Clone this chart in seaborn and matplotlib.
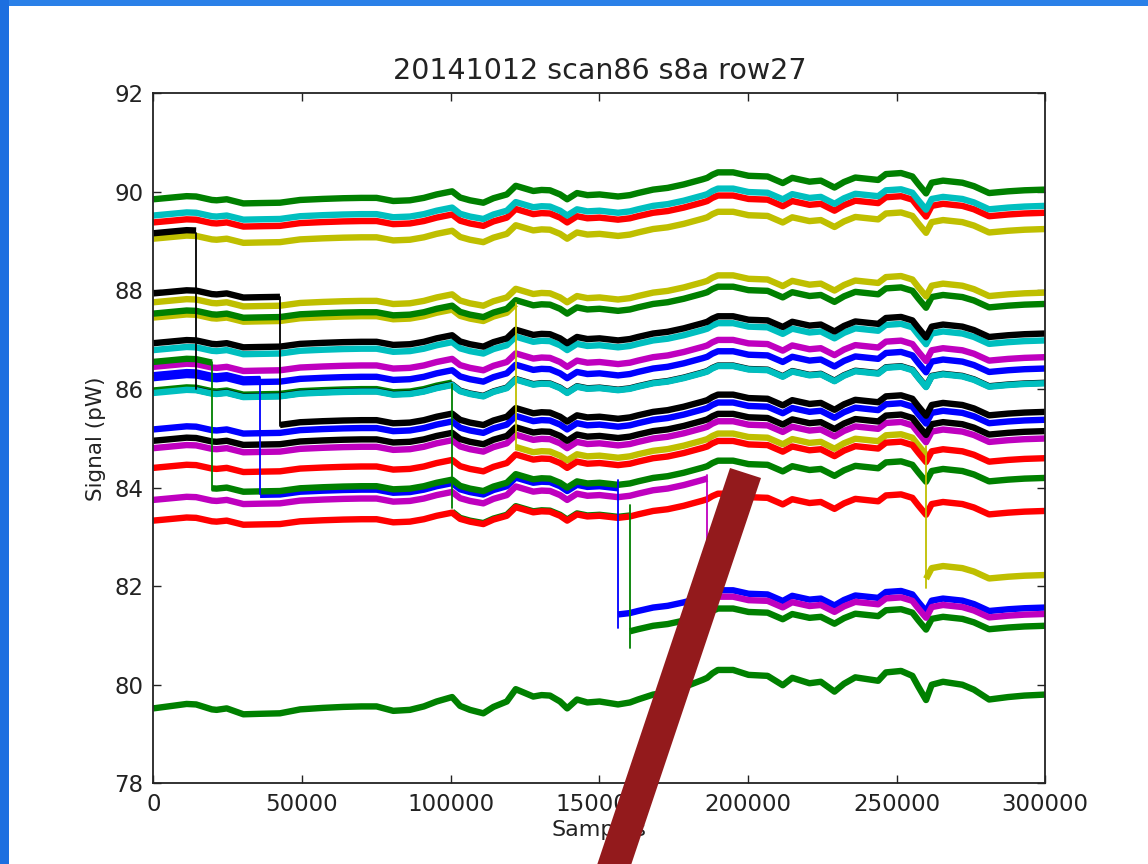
import numpy as np
import pandas as pd
import matplotlib
matplotlib.use("Agg")
import matplotlib.pyplot as plt
import seaborn as sns
from matplotlib.patches import Polygon, Rectangle

PROFILE_X = [0, 5000, 11200, 14400, 16000, 19700, 21300, 24700, 30300, 35900,
             42600, 49400, 57000, 63900, 70000, 75100, 80700, 86300, 91000, 95300,
             100500, 103200, 106500, 111000, 114400, 118900, 121900, 127800, 130600, 133400,
             136800, 139200, 142500, 146000, 150100, 156300, 160300, 163000, 168100, 173000,
             178400, 184800, 186300, 188000, 189900, 195000, 200200, 206600, 211700, 214900,
             220700, 224500, 229100, 232300, 236100, 243800, 246400, 251500, 255300, 257300,
             259900, 261800, 265600, 272100, 276000, 281100, 287500, 293000, 300000]
PROFILE_V = [79.52, 79.56, 79.61, 79.60, 79.57, 79.50, 79.49, 79.52, 79.40, 79.41,
             79.42, 79.50, 79.53, 79.55, 79.56, 79.56, 79.47, 79.49, 79.56, 79.66,
             79.75, 79.57, 79.49, 79.42, 79.55, 79.66, 79.91, 79.76, 79.79, 79.78,
             79.66, 79.52, 79.70, 79.64, 79.66, 79.60, 79.64, 79.70, 79.80, 79.85,
             79.95, 80.10, 80.14, 80.23, 80.30, 80.30, 80.20, 80.18, 79.99, 80.14,
             80.03, 80.06, 79.86, 80.02, 80.15, 80.08, 80.25, 80.28, 80.18, 79.96,
             79.69, 80.00, 80.06, 80.00, 79.90, 79.70, 79.75, 79.78, 79.80]
PROFILE_BASE = 79.52

# ---- channels (draw order): colour, drift gain, segments (x_start, x_end, level) ----
CH_COLOR = ["y", "y", "b", "b", "m", "g", "g", "k", "c", "m",
            "r", "r", "m", "k", "b", "c", "k", "g", "y", "k",
            "r", "c", "g", "g"]
CH_GAIN = [0.7] * 23 + [1.0]
CH_SEGMENTS = [
    [(0, 300000, 89.05)],
    [(0, 121900, 87.45), (121900, 259900, 84.55), (259900, 300000, 82.03)],
    [(0, 35900, 86.28), (35900, 156300, 83.93), (156300, 300000, 81.37)],
    [(0, 300000, 86.22)],
    [(0, 300000, 86.45)],
    [(0, 19700, 86.55), (19700, 300000, 84.0)],
    [(0, 100500, 85.97), (100500, 160300, 83.35), (160300, 300000, 81.0)],
    [(0, 14400, 89.16), (14400, 300000, 85.93)],
    [(0, 300000, 85.92)],
    [(0, 186300, 83.75), (186300, 300000, 81.24)],
    [(0, 300000, 83.33)],
    [(0, 300000, 84.40)],
    [(0, 300000, 84.80)],
    [(0, 300000, 84.95)],
    [(0, 300000, 85.18)],
    [(0, 300000, 86.79)],
    [(0, 300000, 86.93)],
    [(0, 300000, 87.53)],
    [(0, 300000, 87.76)],
    [(0, 42600, 87.94), (42600, 300000, 85.34)],
    [(0, 300000, 89.38)],
    [(0, 300000, 89.52)],
    [(0, 300000, 89.85)],
    [(0, 300000, 79.52)],
]

# ---- single-sample jumps: colour, sample, from, to ----
JUMP_COLOR = ["k", "g", "b", "k", "g", "y", "b", "g", "m", "y"]
JUMP_X = [14400, 19700, 35900, 42600, 100500, 121900, 156300, 160300, 186300, 259900]
JUMP_FROM = [89.16, 86.55, 86.25, 87.87, 86.10, 87.75, 84.15, 83.65, 84.25, 84.85]
JUMP_TO = [86.00, 83.95, 83.88, 85.25, 83.58, 84.80, 81.15, 80.75, 81.70, 81.96]

TITLE = "20141012 scan86 s8a row27"
XLABEL = "Samples"
YLABEL = "Signal (pW)"
XTICKS = [0, 50000, 100000, 150000, 200000, 250000, 300000]
YTICKS = [78, 80, 82, 84, 86, 88, 90, 92]

COLORS = {"b": "#0000ff", "g": "#008000", "r": "#ff0000", "c": "#00bfbf",
          "m": "#bf00bf", "y": "#bfbf00", "k": "#000000"}

sns.set_style("ticks")
plt.rcParams["font.family"] = ["DejaVu Sans"]

W, H = 1148, 864
fig = plt.figure(figsize=(W / 100, H / 100), dpi=100)
fig.patch.set_facecolor("white")

# slide border
fig.add_artist(Rectangle((0, 1 - 6 / H), 1, 6 / H, transform=fig.transFigure,
                         facecolor="#2a80e8", edgecolor="none", zorder=-5))
fig.add_artist(Rectangle((0, 0), 9 / W, 1, transform=fig.transFigure,
                         facecolor="#1c6fe0", edgecolor="none", zorder=-5))

ax = fig.add_axes([153.3 / W, 1 - 783.3 / H, (1045.3 - 153.3) / W, (783.3 - 93.3) / H])
ax.set_facecolor("white")

px = np.array(PROFILE_X, dtype=float)
pv = np.array(PROFILE_V, dtype=float)

for col, gain, segs in zip(CH_COLOR, CH_GAIN, CH_SEGMENTS):
    for x0, x1, level in segs:
        m = (px >= x0) & (px <= x1)
        df = pd.DataFrame({"sample": px[m], "signal": level + gain * (pv[m] - PROFILE_BASE)})
        sns.lineplot(data=df, x="sample", y="signal", color=COLORS[col], lw=4.6,
                     estimator=None, sort=False, ax=ax, solid_capstyle="butt")

for col, x, y0, y1 in zip(JUMP_COLOR, JUMP_X, JUMP_FROM, JUMP_TO):
    df = pd.DataFrame({"sample": [x, x], "signal": [y0, y1]})
    sns.lineplot(data=df, x="sample", y="signal", color=COLORS[col], lw=1.3,
                 estimator=None, sort=False, ax=ax, zorder=5)

ax.set_xlim(0, 300000)
ax.set_ylim(78, 92)
ax.set_xticks(XTICKS)
ax.set_yticks(YTICKS)
ax.set_xticklabels([str(t) for t in XTICKS])
ax.set_yticklabels([str(t) for t in YTICKS])
ax.tick_params(direction="in", top=True, right=True, length=6, width=1,
               labelsize=16.5, pad=7, colors="#222222", labelcolor="#222222")
for s in ax.spines.values():
    s.set_visible(True)
    s.set_linewidth(1.3)
    s.set_color("#222222")
ax.set_title(TITLE, fontsize=20.5, pad=10, color="#222222")
ax.set_xlabel(XLABEL, fontsize=16, color="#222222", labelpad=3)
ax.set_ylabel(YLABEL, fontsize=15.5, color="#222222", labelpad=6)

# dark red pointer bar drawn over the slide
bar = [(730, 468), (761, 478), (626, 880), (592, 880)]
fig.add_artist(Polygon([(x / W, 1 - y / H) for x, y in bar], closed=True,
                       transform=fig.transFigure, facecolor="#931a1c",
                       edgecolor="none", zorder=20))

fig.savefig("out.png", dpi=100)
